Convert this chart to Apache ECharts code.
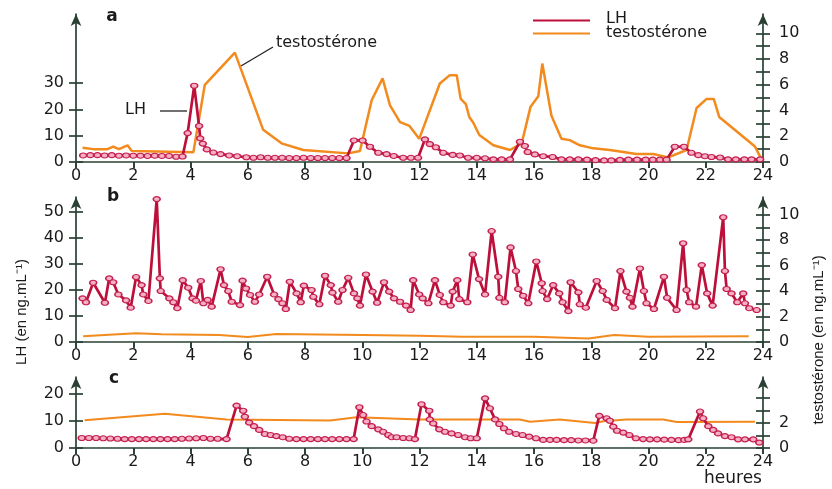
<!DOCTYPE html>
<html><head><meta charset="utf-8">
<script src="https://cdn.jsdelivr.net/npm/echarts@6/dist/echarts.min.js"></script>
<style>html,body{margin:0;padding:0;background:#fff}#chart{width:832px;height:489px}</style>
</head><body><div id="chart"></div>
<script>
// ---------- tick labels ----------
const hourLabels = [0, 2, 4, 6, 8, 10, 12, 14, 16, 18, 20, 22, 24];
const aLeftTicks = [0, 10, 20, 30];
const bLeftTicks = [0, 10, 20, 30, 40, 50];
const cLeftTicks = [0, 10, 20];
const abRightTicks = [0, 1, 2, 3, 4, 5, 6, 7, 8, 9, 10];
const abRightLabels = [0, 2, 4, 6, 8, 10];
const cRightTicks = [0, 1, 2, 3, 4];
const cRightLabels = [0, 2];

// ---------- panel a ----------
const aLHHours = [0.25,0.5,0.75,1.0,1.25,1.5,1.75,2.0,2.25,2.5,2.75,3.0,3.25,3.5,3.72,3.9,4.13,4.3,4.34,4.43,4.57,4.8,5.05,5.35,5.63,5.95,6.2,6.45,6.7,6.95,7.2,7.45,7.7,7.95,8.2,8.45,8.7,8.95,9.2,9.45,9.71,10.01,10.27,10.56,10.85,11.1,11.43,11.7,11.95,12.19,12.36,12.57,12.83,13.16,13.41,13.7,14.0,14.29,14.58,14.87,15.16,15.51,15.68,15.78,16.03,16.32,16.65,16.96,17.25,17.55,17.85,18.15,18.45,18.7,19.0,19.3,19.6,19.9,20.15,20.4,20.63,20.92,21.24,21.5,21.74,21.97,22.2,22.5,22.78,23.05,23.35,23.6,23.9];
const aLHValues = [2.5,2.6,2.6,2.5,2.6,2.4,2.5,2.4,2.4,2.3,2.4,2.3,2.3,2.0,2.1,11,29,13.7,9,7,4.8,3.6,3.0,2.5,2.2,1.8,1.6,1.8,1.6,1.6,1.6,1.5,1.5,1.6,1.5,1.5,1.5,1.5,1.5,1.5,8.2,8.2,5.8,3.5,3.0,2.3,1.6,1.6,1.6,8.6,6.8,5.6,3.5,2.7,2.5,1.6,1.6,1.4,1.0,1.0,1.0,7.7,6.1,3.8,2.9,2.2,1.9,1.0,1.0,1.0,0.9,0.7,0.6,0.6,0.8,0.9,0.9,0.9,0.9,0.9,0.9,5.8,5.8,3.5,2.6,2.2,1.9,1.7,1.0,1.0,1.0,1.0,1.0];
const aTHours = [0.23,0.6,1.1,1.3,1.5,1.8,1.95,4.1,4.5,5.55,6.54,7.18,7.94,9.51,9.92,10.33,10.71,10.97,11.32,11.65,11.99,12.71,13.06,13.3,13.44,13.62,13.74,13.88,14.09,14.58,15.16,15.57,15.88,16.15,16.29,16.61,16.96,17.25,17.6,18.07,18.65,19.58,20.16,20.69,21.33,21.68,22.03,22.28,22.47,23.72,23.95];
const aTValues = [1.1,1.0,1.0,1.2,1.0,1.3,0.85,0.75,6.0,8.5,2.5,1.45,0.93,0.67,0.85,4.8,6.5,4.4,3.1,2.8,1.8,6.1,6.75,6.75,4.9,4.5,3.5,3.05,2.1,1.3,0.93,1.45,4.3,5.1,7.65,3.6,1.8,1.7,1.3,1.06,0.93,0.62,0.62,0.36,0.93,4.2,4.9,4.9,3.5,1.2,0.2];

// ---------- panel b ----------
const bLHHours = [0.23,0.35,0.6,1.01,1.16,1.3,1.48,1.75,1.91,2.1,2.29,2.35,2.53,2.82,2.93,2.96,3.26,3.4,3.54,3.73,3.92,4.07,4.19,4.36,4.45,4.6,4.74,5.05,5.17,5.32,5.44,5.73,5.82,5.94,6.08,6.25,6.4,6.68,6.92,7.07,7.21,7.33,7.47,7.71,7.85,7.96,8.23,8.29,8.5,8.7,8.9,8.96,9.16,9.31,9.51,9.71,9.83,9.92,10.13,10.36,10.52,10.76,10.94,11.11,11.32,11.53,11.69,11.78,11.99,12.11,12.31,12.54,12.71,12.83,13.09,13.16,13.32,13.39,13.67,13.86,14.08,14.29,14.52,14.75,14.79,14.98,15.18,15.37,15.45,15.62,15.8,16.08,16.27,16.3,16.46,16.67,16.88,17.0,17.2,17.28,17.55,17.6,17.81,18.19,18.4,18.54,18.83,19.02,19.23,19.35,19.44,19.7,19.84,19.93,20.19,20.54,20.65,20.98,21.21,21.33,21.42,21.66,21.86,22.05,22.24,22.61,22.67,22.73,22.9,23.1,23.31,23.37,23.52,23.78];
const bLHValues = [16.8,15.3,22.8,15.1,24.5,23,18.3,16,13.2,25,21.9,18.3,15.8,55,24.5,19.6,16.8,15.3,13,23.8,20.9,16.8,15.9,23.5,14.9,16.2,13.6,28,21.9,19.6,15.5,14.2,23.6,20.6,18.1,15.5,18.3,25.1,18.3,16.5,14.9,12.7,23.2,18.7,15.3,21.7,20,17.4,14.5,25.5,21.9,19,15.5,20,24.7,18.7,16.8,14,26,19.4,15.1,23,19.4,16.8,15.5,14,12.3,23.8,18.3,16.8,14.9,23.8,18.1,15.3,14,19.4,23.8,16.5,15.3,33.7,24.2,18.3,42.7,25.1,17,15.3,36.4,27.3,20.4,17.8,14.9,31,22.6,19.6,16.5,21.9,18.7,15.3,11.9,23,19.1,14.5,13.2,23.5,19.6,16.2,13,27.3,19.4,17,13.6,28.3,19.6,14.9,12.7,25.1,17,12.3,38,20,15.3,13.6,29.6,18.7,14,48,27.3,20.4,18.7,15.3,18.7,14.9,13,12.3];
const bTHours = [0.25,1.0,2.1,3.0,5.0,6.0,7.0,10.0,12.0,13.5,16.0,17.9,18.8,20.0,23.5];
const bTValues = [0.45,0.55,0.68,0.6,0.55,0.4,0.62,0.55,0.5,0.42,0.42,0.28,0.55,0.42,0.45];

// ---------- panel c ----------
const cLHHours = [0.2,0.45,0.7,0.95,1.2,1.45,1.7,1.95,2.2,2.45,2.7,2.95,3.2,3.45,3.7,3.95,4.2,4.45,4.7,4.95,5.26,5.61,5.84,5.9,6.05,6.22,6.4,6.6,6.8,7.0,7.22,7.45,7.7,7.95,8.2,8.45,8.7,8.95,9.2,9.45,9.7,9.9,10.03,10.15,10.33,10.56,10.73,10.91,11.03,11.2,11.43,11.65,11.84,12.07,12.34,12.36,12.48,12.69,12.89,13.12,13.35,13.59,13.79,14.0,14.29,14.46,14.64,14.79,14.95,15.13,15.37,15.6,15.83,16.07,16.32,16.56,16.79,17.05,17.3,17.55,17.8,18.07,18.28,18.54,18.65,18.77,18.9,19.12,19.33,19.56,19.81,20.05,20.3,20.55,20.8,21.05,21.25,21.39,21.8,21.91,22.09,22.26,22.43,22.67,22.9,23.13,23.37,23.66,23.87];
const cLHValues = [3.7,3.7,3.7,3.6,3.5,3.4,3.3,3.3,3.3,3.3,3.3,3.3,3.3,3.3,3.4,3.5,3.6,3.7,3.4,3.4,3.3,15.7,13.8,11.6,9.4,8.1,6.7,5.2,4.8,4.4,4.0,3.4,3.3,3.3,3.3,3.3,3.3,3.3,3.3,3.3,3.3,15.1,12.2,9.8,8.1,6.9,6.0,4.8,4.0,4.0,3.7,3.6,3.3,16.2,13.8,10.6,9.1,6.9,6.0,5.4,4.8,4.0,3.6,3.6,18.4,14.7,10.6,8.9,7.3,6.0,5.2,4.8,4.2,3.6,3.0,3.0,3.0,2.9,2.9,2.8,2.8,2.7,11.9,11,10.1,7.9,6.4,5.7,4.8,3.6,3.3,3.2,3.2,3.1,3.0,2.9,3.0,3.2,13.5,11,8.1,6.7,5.4,4.4,4.0,3.2,3.2,3.2,2.0];
const cTHours = [0.3,3.1,5.26,8.87,9.8,12.0,15.5,15.86,16.9,18.13,18.42,19.23,20.51,20.98,23.72];
const cTValues = [2.23,2.75,2.28,2.2,2.46,2.28,2.28,2.1,2.28,2.0,2.15,2.28,2.28,2.08,2.1];

// ---------- styling ----------
const AX = '#2a4034';
const TXT = '#1a1a1a';
const FONT = 'DejaVu Sans';
const LH_COLOR = '#bc0f3a';
const T_COLOR = '#f28a1e';

const zip = (h, v) => h.map((x, i) => [x, v[i]]);

const grids = [
  { left: 76, right: 69, top: 14, height: 148 },
  { left: 76, right: 69, top: 197, height: 145 },
  { left: 76, right: 69, top: 377, height: 71 }
];
const panels = [
  { leftMax: 56.3, rightMax: 11.5, leftTicks: aLeftTicks, rightTicks: abRightTicks, rightLabels: abRightLabels, lh: zip(aLHHours, aLHValues), t: zip(aTHours, aTValues), tw: 2.5 },
  { leftMax: 55.8, rightMax: 11.4, leftTicks: bLeftTicks, rightTicks: abRightTicks, rightLabels: abRightLabels, lh: zip(bLHHours, bLHValues), t: zip(bTHours, bTValues), tw: 2 },
  { leftMax: 26.3, rightMax: 5.7, leftTicks: cLeftTicks, rightTicks: cRightTicks, rightLabels: cRightLabels, lh: zip(cLHHours, cLHValues), t: zip(cTHours, cTValues), tw: 2 }
];

const xAxis = [], yAxis = [], series = [];
const labelStyle = { color: TXT, fontSize: 16, fontFamily: FONT };
panels.forEach((p, g) => {
  const xBase = { gridIndex: g, type: 'value', min: 0, max: 24, interval: 2, splitLine: { show: false } };
  xAxis.push(Object.assign({}, xBase, {
    axisLine: { show: true, lineStyle: { color: AX, width: 1.7 } },
    axisTick: { show: true, length: 6, customValues: hourLabels, lineStyle: { color: AX, width: 1.7 } },
    axisLabel: Object.assign({ margin: 6, customValues: hourLabels }, labelStyle)
  }));
  xAxis.push(Object.assign({}, xBase, {
    axisLine: { show: false },
    axisTick: { show: true, inside: true, length: 6, customValues: hourLabels, lineStyle: { color: AX, width: 1.7 } },
    axisLabel: { show: false }
  }));
  const mkY = (pos, max, ticks, labels, margin) => {
    const base = { gridIndex: g, type: 'value', position: pos, min: 0, max: max, splitLine: { show: false } };
    return [
      Object.assign({}, base, {
        axisLine: { show: true, symbol: ['none', 'arrow'], symbolSize: [8, 12], lineStyle: { color: AX, width: 1.7 } },
        axisTick: { show: true, length: 7, customValues: ticks, lineStyle: { color: AX, width: 1.7 } },
        axisLabel: Object.assign({ margin: margin, customValues: labels,
          formatter: v => labels.indexOf(v) >= 0 ? String(v) : '' }, labelStyle)
      }),
      Object.assign({}, base, {
        axisLine: { show: false },
        axisTick: { show: true, inside: true, length: 7, customValues: ticks, lineStyle: { color: AX, width: 1.7 } },
        axisLabel: { show: false }
      })
    ];
  };
  yAxis.push(...mkY('left', p.leftMax, p.leftTicks, p.leftTicks, 12));
  yAxis.push(...mkY('right', p.rightMax, p.rightTicks, p.rightLabels, 16));
  series.push({
    name: 'testostérone', type: 'line', xAxisIndex: 2 * g, yAxisIndex: 4 * g + 2,
    data: p.t, symbol: 'none', lineStyle: { color: T_COLOR, width: p.tw }, z: 2
  });
  series.push({
    name: 'LH', type: 'line', xAxisIndex: 2 * g, yAxisIndex: 4 * g,
    data: p.lh, symbol: 'circle', symbolSize: [7, 5], showAllSymbol: true,
    itemStyle: { color: '#f5b0c4', borderColor: '#c42050', borderWidth: 1.3 },
    lineStyle: { color: LH_COLOR, width: 2.7 }, z: 3
  });
});

const txt = (x, y, s, extra) => ({ type: 'text', x: x, y: y, silent: true,
  style: Object.assign({ text: s, fill: TXT, font: '15px "DejaVu Sans"', textAlign: 'left', textVerticalAlign: 'middle' }, extra || {}) });
const seg = (x1, y1, x2, y2, color, w) => ({ type: 'line', silent: true,
  shape: { x1: x1, y1: y1, x2: x2, y2: y2 }, style: { stroke: color, lineWidth: w } });

const graphic = [
  seg(533, 20.5, 590, 20.5, LH_COLOR, 2),
  txt(606, 19, 'LH', { font: '16px "DejaVu Sans"' }),
  seg(533, 33.5, 590, 33.5, T_COLOR, 2),
  txt(606, 33, 'testostérone', { font: '16px "DejaVu Sans"' }),
  txt(276, 43, 'testostérone', { font: '16px "DejaVu Sans"' }),
  seg(273, 47, 241, 66, '#222', 1.3),
  txt(125, 110, 'LH', { font: '16px "DejaVu Sans"' }),
  seg(160, 111, 187, 111, '#222', 1.3),
  txt(112, 17, 'a', { font: 'bold 17px "DejaVu Sans"', textAlign: 'center' }),
  txt(113, 197, 'b', { font: 'bold 17px "DejaVu Sans"', textAlign: 'center' }),
  txt(114, 379, 'c', { font: 'bold 17px "DejaVu Sans"', textAlign: 'center' }),
  txt(733, 479, 'heures', { font: '17px "DejaVu Sans"', textAlign: 'center' }),
  { type: 'text', x: 22, y: 312, rotation: Math.PI / 2, silent: true,
    style: { text: 'LH (en ng.mL⁻¹)', fill: TXT, font: '15px "Liberation Sans"', textAlign: 'center', textVerticalAlign: 'middle' } },
  { type: 'text', x: 819, y: 340, rotation: Math.PI / 2, silent: true,
    style: { text: 'testostérone (en ng.mL⁻¹)', fill: TXT, font: '15px "Liberation Sans"', textAlign: 'center', textVerticalAlign: 'middle' } }
];

const chart = echarts.init(document.getElementById('chart'), null, { renderer: 'canvas' });
chart.setOption({
  animation: false,
  backgroundColor: '#ffffff',
  grid: grids,
  xAxis: xAxis,
  yAxis: yAxis,
  series: series,
  graphic: graphic
});
</script>
</body></html>
